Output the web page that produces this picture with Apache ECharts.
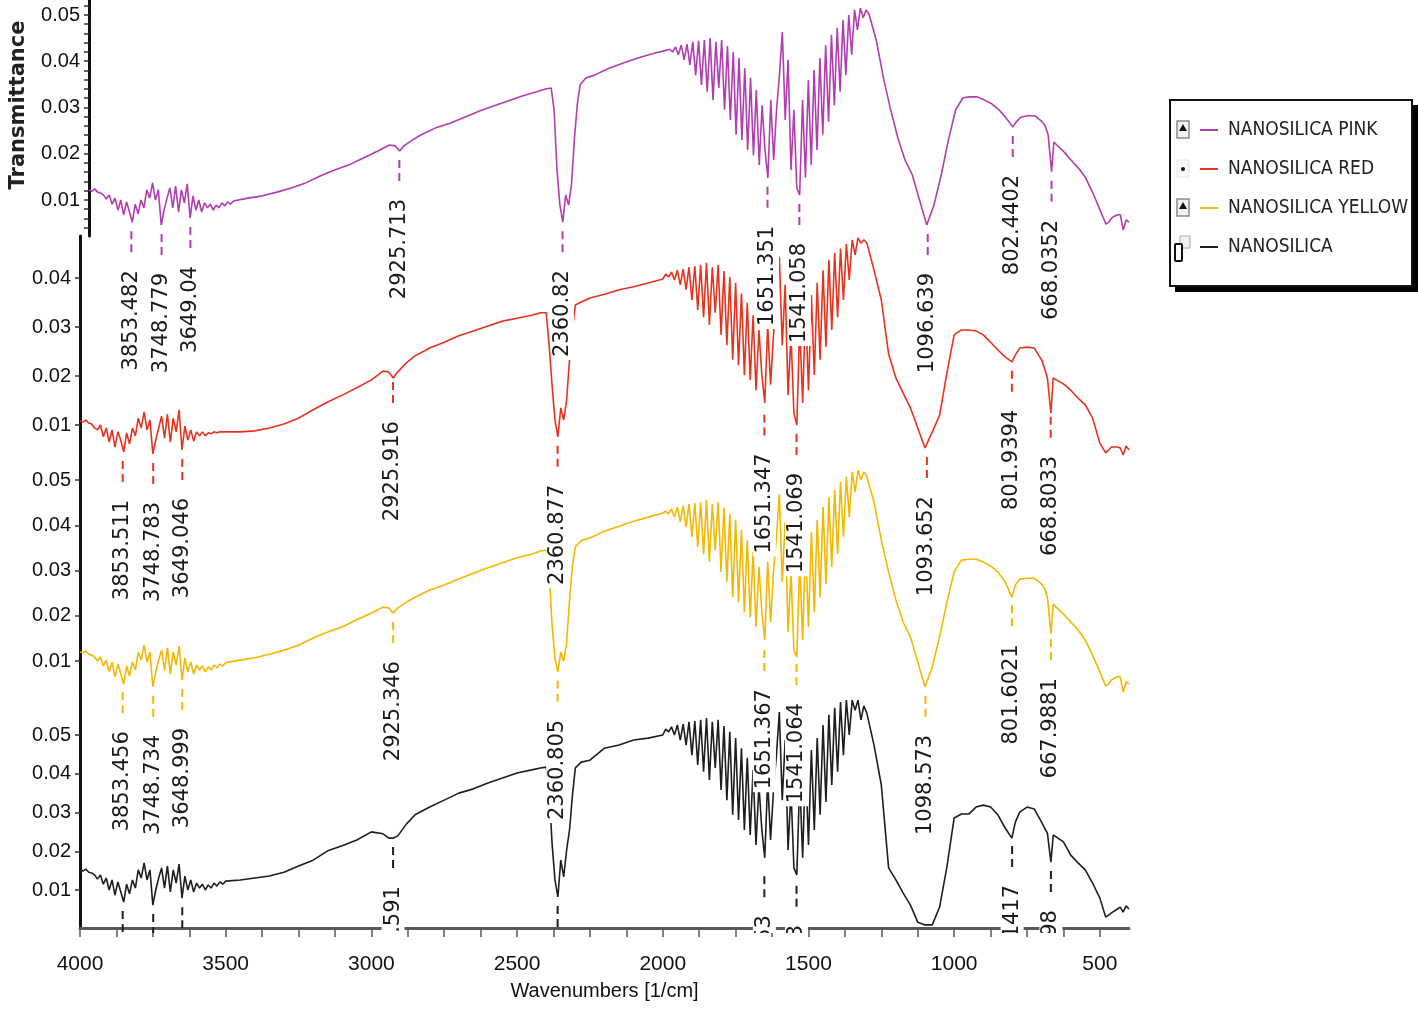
<!DOCTYPE html>
<html><head><meta charset="utf-8">
<script src="https://cdn.jsdelivr.net/npm/echarts@6/dist/echarts.min.js"></script>
<style>html,body{margin:0;padding:0;background:#fff}#c{width:1418px;height:1011px}</style>
</head><body><div id="c"></div>
<script>
// shared wavenumber sampling (1/cm)
const wn = [
4000,3990,3980,3970,3960,3950,3940,3930,3920,3910,3900,3890,3880,3870,3860,3850,3840,3830,3820,3810,3800,3790,3780,3770,3760,3750,3740,3730,3720,3710,3700,3690,3680,3670,3660,3650,3640,3630,3620,3610,3600,3590,3580,3570,3560,3550,3540,3530,3520,3510,3500,
3450,3400,3350,3300,3250,3200,3150,3100,3050,3000,2960,2940,2925,2910,2880,2850,2800,2750,2700,2650,2600,2550,2500,2450,2420,
2400,2390,2380,2370,2360,2350,2340,2330,2320,2310,2300,2280,2250,2200,2150,2100,2050,2000,
1990,1980,1970,1960,1950,1940,1930,1920,1910,1900,1890,1880,1870,1860,1850,1840,1830,1820,1810,1800,1790,1780,1770,1760,1750,1740,1730,1720,1710,1700,1690,1680,1670,1660,1650,1640,1630,1620,1610,1600,1590,1580,1570,1560,1550,1540,1530,1520,1510,1500,1490,1480,1470,1460,1450,1440,1430,1420,1410,1400,1390,1380,1370,1360,1350,1340,1330,1320,1310,1300,
1275,1250,1225,1200,1175,1150,1125,1100,1075,1050,1025,1000,975,950,925,900,875,850,825,802,790,775,750,725,700,690,680,668,660,650,625,600,575,550,525,500,480,470,460,450,440,430,420,410,400];

// transmittance values
const pink = [
.0122,.0119,.0124,.0117,.0115,.0111,.0102,.0111,.0091,.0104,.0078,.0100,.0068,.0096,.0074,.0052,.0091,.0070,.0100,.0083,.0122,.0104,.0137,.0100,.0122,.0046,.0078,.0104,.0126,.0083,.0130,.0074,.0122,.0094,.0135,.0061,.0109,.0078,.0100,.0074,.0094,.0083,.0091,.0078,.0089,.0083,.0094,.0087,.0096,.0091,.0098,
.0104,.0109,.0117,.0126,.0137,.0152,.0165,.0176,.0191,.0206,.0219,.0217,.0206,.0217,.0230,.0241,.0256,.0266,.0279,.0292,.0303,.0314,.0325,.0334,.0340,
.0342,.0295,.0165,.0089,.0052,.0111,.0089,.0132,.0230,.0305,.0349,.0364,.0370,.0385,.0396,.0407,.0416,.0424,
.0426,.0420,.0431,.0414,.0435,.0403,.0437,.0392,.0442,.0370,.0444,.0349,.0446,.0334,.0450,.0316,.0442,.0342,.0446,.0295,.0433,.0273,.0420,.0241,.0407,.0230,.0385,.0208,.0364,.0197,.0338,.0176,.0305,.0208,.0148,.0316,.0186,.0295,.0370,.0463,.0273,.0403,.0165,.0295,.0126,.0111,.0316,.0148,.0359,.0176,.0381,.0208,.0407,.0241,.0435,.0269,.0457,.0305,.0472,.0334,.0489,.0370,.0500,.0414,.0511,.0468,.0515,.0494,.0511,.0502,
.0446,.0364,.0295,.0234,.0186,.0154,.0100,.0046,.0089,.0154,.0230,.0295,.0321,.0323,.0323,.0316,.0308,.0295,.0277,.0258,.0269,.0279,.0282,.0282,.0269,.0260,.0241,.0161,.0225,.0219,.0204,.0186,.0169,.0148,.0115,.0078,.0048,.0052,.0061,.0065,.0068,.0068,.0035,.0057,.0052];

const red = [
.0108,.0106,.0110,.0104,.0102,.0094,.0090,.0100,.0076,.0094,.0065,.0090,.0055,.0086,.0069,.0045,.0084,.0061,.0094,.0078,.0114,.0094,.0127,.0090,.0110,.0041,.0069,.0094,.0118,.0073,.0122,.0065,.0114,.0086,.0131,.0049,.0098,.0069,.0090,.0067,.0086,.0078,.0086,.0078,.0084,.0082,.0086,.0084,.0086,.0086,.0086,
.0086,.0088,.0094,.0102,.0114,.0131,.0147,.0161,.0176,.0192,.0210,.0208,.0196,.0208,.0227,.0241,.0257,.0269,.0282,.0292,.0302,.0312,.0318,.0324,.0329,
.0329,.0263,.0182,.0110,.0076,.0135,.0110,.0151,.0233,.0294,.0345,.0351,.0359,.0367,.0376,.0382,.0390,.0398,
.0408,.0402,.0412,.0396,.0416,.0386,.0418,.0376,.0422,.0355,.0424,.0335,.0427,.0320,.0431,.0304,.0422,.0329,.0427,.0284,.0414,.0263,.0402,.0233,.0390,.0222,.0369,.0202,.0349,.0192,.0324,.0171,.0294,.0202,.0145,.0304,.0182,.0284,.0355,.0443,.0263,.0386,.0161,.0284,.0124,.0100,.0304,.0145,.0345,.0171,.0365,.0202,.0390,.0233,.0416,.0259,.0437,.0294,.0451,.0320,.0460,.0355,.0470,.0396,.0478,.0447,.0482,.0471,.0478,.0472,
.0416,.0355,.0245,.0196,.0165,.0135,.0094,.0053,.0086,.0120,.0206,.0284,.0294,.0294,.0292,.0284,.0269,.0253,.0239,.0229,.0243,.0257,.0259,.0257,.0233,.0216,.0196,.0124,.0196,.0192,.0184,.0171,.0155,.0141,.0114,.0063,.0043,.0049,.0055,.0055,.0055,.0053,.0039,.0057,.0049];

const yellow = [
.0120,.0118,.0122,.0115,.0113,.0109,.0100,.0109,.0089,.0102,.0076,.0098,.0065,.0093,.0071,.0049,.0089,.0067,.0098,.0080,.0120,.0102,.0135,.0098,.0120,.0043,.0076,.0102,.0124,.0080,.0129,.0071,.0120,.0091,.0133,.0058,.0107,.0076,.0098,.0071,.0091,.0080,.0089,.0076,.0087,.0080,.0091,.0085,.0093,.0089,.0096,
.0102,.0107,.0115,.0124,.0135,.0151,.0164,.0175,.0191,.0206,.0219,.0217,.0206,.0217,.0230,.0241,.0257,.0268,.0281,.0294,.0306,.0317,.0328,.0336,.0343,
.0345,.0300,.0180,.0105,.0076,.0120,.0100,.0140,.0235,.0310,.0352,.0366,.0372,.0387,.0398,.0409,.0418,.0427,
.0431,.0425,.0436,.0418,.0440,.0407,.0443,.0396,.0447,.0374,.0449,.0352,.0451,.0336,.0456,.0319,.0447,.0345,.0451,.0297,.0438,.0275,.0425,.0241,.0412,.0230,.0390,.0208,.0367,.0197,.0341,.0175,.0308,.0208,.0146,.0319,.0186,.0297,.0374,.0469,.0275,.0407,.0164,.0297,.0124,.0109,.0319,.0146,.0363,.0175,.0385,.0208,.0412,.0241,.0440,.0270,.0462,.0308,.0478,.0336,.0496,.0374,.0507,.0418,.0518,.0473,.0522,.0500,.0518,.0509,
.0451,.0367,.0297,.0235,.0186,.0153,.0098,.0043,.0087,.0153,.0230,.0297,.0323,.0325,.0325,.0319,.0310,.0297,.0275,.0241,.0268,.0281,.0283,.0283,.0270,.0261,.0241,.0160,.0226,.0219,.0204,.0186,.0169,.0146,.0113,.0076,.0045,.0049,.0058,.0062,.0065,.0065,.0031,.0054,.0049];

const black = [
.0152,.0149,.0154,.0146,.0144,.0139,.0128,.0139,.0115,.0131,.0100,.0126,.0087,.0121,.0095,.0069,.0115,.0090,.0126,.0105,.0152,.0131,.0170,.0126,.0152,.0061,.0100,.0131,.0157,.0105,.0162,.0095,.0152,.0118,.0167,.0079,.0136,.0100,.0126,.0095,.0118,.0105,.0115,.0100,.0113,.0105,.0118,.0110,.0121,.0115,.0123,
.0126,.0131,.0136,.0146,.0162,.0177,.0201,.0214,.0229,.0250,.0245,.0234,.0234,.0239,.0270,.0294,.0314,.0332,.0350,.0361,.0376,.0389,.0402,.0410,.0415,
.0417,.0358,.0221,.0126,.0082,.0177,.0134,.0203,.0255,.0345,.0415,.0430,.0435,.0466,.0474,.0487,.0492,.0500,
.0515,.0508,.0521,.0500,.0526,.0487,.0528,.0474,.0534,.0448,.0536,.0423,.0539,.0405,.0544,.0384,.0534,.0415,.0539,.0358,.0523,.0332,.0508,.0294,.0492,.0281,.0466,.0255,.0441,.0242,.0410,.0216,.0371,.0255,.0183,.0384,.0229,.0358,.0448,.0559,.0332,.0487,.0203,.0358,.0157,.0139,.0384,.0183,.0435,.0216,.0461,.0255,.0492,.0294,.0526,.0327,.0552,.0371,.0570,.0405,.0585,.0448,.0590,.0500,.0590,.0564,.0590,.0539,.0575,.0557,
.0474,.0371,.0157,.0126,.0092,.0061,.0017,.0010,.0010,.0056,.0159,.0286,.0296,.0296,.0314,.0319,.0314,.0294,.0260,.0234,.0275,.0301,.0314,.0309,.0275,.0260,.0247,.0172,.0242,.0237,.0224,.0190,.0170,.0152,.0118,.0079,.0030,.0035,.0041,.0046,.0051,.0056,.0043,.0059,.0051];

// peak annotations: [label (wavenumber), transmittance at the band]
const pinkPeaks = [['3853.482',.0052],['3748.779',.0046],['3649.04',.0061],['2925.713',.0206],['2360.82',.0052],['1651.351',.0148],['1541.058',.0111],['1096.639',.0046],['802.4402',.0258],['668.0352',.0161]];
const redPeaks = [['3853.511',.0045],['3748.783',.0041],['3649.046',.0049],['2925.916',.0206],['2360.877',.0076],['1651.347',.0140],['1541.069',.0100],['1093.652',.0053],['801.9394',.0229],['668.8033',.0135]];
const yellowPeaks = [['3853.456',.0051],['3748.734',.0043],['3648.999',.0058],['2925.346',.0206],['2360.805',.0076],['1651.367',.0144],['1541.064',.0113],['1098.573',.0043],['801.6021',.0243],['667.9881',.0168]];
const blackPeaks = [['3853.468',.0069],['3748.748',.0061],['3649.013',.0079],['2925.591',.0234],['2360.846',.0082],['1651.353',.0159],['1541.063',.0134],['1096.612',.0010],['801.1417',.0237],['667.9898',.0172]];

const seriesNames = ['NANOSILICA PINK','NANOSILICA RED','NANOSILICA YELLOW','NANOSILICA'];
const xTickLabels = [4000,3500,3000,2500,2000,1500,1000,500];
const xTicks = [4000,3875,3750,3625,3500,3375,3250,3125,3000,2875,2750,2625,2500,2375,2250,2125,2000,1875,1750,1625,1500,1375,1250,1125,1000,875,750,625,500];
const yTickLabels = [[0.01,0.02,0.03,0.04,0.05],[0.01,0.02,0.03,0.04],[0.01,0.02,0.03,0.04,0.05],[0.01,0.02,0.03,0.04,0.05]];
const yTicksTop = [0.004,0.006,0.008,0.01,0.012,0.014,0.016,0.018,0.02,0.022,0.024,0.026,0.028,0.03,0.032,0.034,0.036,0.038,0.04,0.042,0.044,0.046,0.048,0.05,0.052];

// layout
const colors = ['#B23DB0','#E8321E','#F4B800','#1E1E1E'];
const AXISFONT = "'Liberation Sans',Arial,sans-serif";
const COND = "'DejaVu Sans Condensed','DejaVu Sans',sans-serif";
const panels = [
  {top:0,   height:236, min:0.002216,  max:0.053243},
  {top:236, height:226, min:0.002449,  max:0.048571},
  {top:462, height:233, min:0.002486,  max:0.053978},
  {top:695, height:233, min:0.000194,  max:0.060323},
  {top:695, height:238, min:-0.001097, max:0.060323}  // annotation layer for bottom panel (clipped)
];
const PLOT_LEFT = 80, PLOT_W = 1049;

const chart = echarts.init(document.getElementById('c'), null, {renderer:'canvas'});

const grid = panels.map(p => ({left:PLOT_LEFT, width:PLOT_W, top:p.top, height:p.height}));
const xAxis = panels.map((p,i) => {
  const base = {gridIndex:i, type:'value', min:400, max:4000, inverse:true, splitLine:{show:false}};
  if (i !== 3) return Object.assign(base, {show:false});
  return Object.assign(base, {
    axisLine:{show:true, onZero:false, lineStyle:{color:'#5a5a5a', width:3}},
    axisTick:{show:true, length:9, customValues:xTicks, lineStyle:{color:'#5a5a5a', width:1.5}},
    axisLabel:{show:true, customValues:xTickLabels, formatter:v=>String(v), margin:26, fontFamily:AXISFONT, fontSize:21, color:'#111'},
    name:'Wavenumbers [1/cm]', nameLocation:'middle', nameGap:53,
    nameTextStyle:{fontFamily:AXISFONT, fontSize:20, color:'#111'}
  });
});
const yAxis = panels.map((p,i) => {
  const base = {gridIndex:i, type:'value', min:p.min, max:p.max, splitLine:{show:false}};
  if (i === 4) return Object.assign(base, {show:false});
  const ax = Object.assign(base, {
    axisLine:{show:true, onZero:false, lineStyle:{color:'#111', width:3}},
    axisTick:{show:true, length:5, customValues: i===0 ? yTicksTop : yTickLabels[i], lineStyle:{color:'#333', width:1.5}},
    axisLabel:{show:true, margin:9, customValues:yTickLabels[i], formatter:v=>v.toFixed(2), fontFamily:AXISFONT, fontSize:20, color:'#111'}
  });
  if (i === 0) Object.assign(ax, {name:'Transmittance', nameLocation:'middle', nameGap:60, nameRotate:90,
    nameTextStyle:{fontFamily:'DejaVu Sans', fontSize:21, fontWeight:'bold', color:'#222', padding:[0,0,0,26]}});
  return ax;
});

const curves = [pink, red, yellow, black];
const series = curves.map((arr,i) => ({
  type:'line', name:seriesNames[i], xAxisIndex:i, yAxisIndex:i,
  data: arr.map((v,k)=>[wn[k], v]),
  showSymbol:false, symbol:'none', animation:false, z:2,
  lineStyle:{color:colors[i], width:1.6}, itemStyle:{color:colors[i]}
}));

function annotations(peaks, color, axisIdx, clip) {
  return {
    type:'custom', xAxisIndex:axisIdx, yAxisIndex:axisIdx, clip:clip, z:10, silent:true, animation:false,
    data: peaks.map(p => [parseFloat(p[0]), p[1]]),
    renderItem(params, api) {
      const pt = api.coord([api.value(0), api.value(1)]);
      const label = peaks[params.dataIndex][0];
      return {type:'group', children:[
        {type:'line', shape:{x1:pt[0], y1:pt[1]+9, x2:pt[0], y2:pt[1]+31},
         style:{stroke:color, lineWidth:2, lineDash:[8,5]}},
        {type:'text', x:pt[0], y:pt[1]+45, rotation:Math.PI/2,
         style:{text:label, align:'right', verticalAlign:'middle', fontSize:21, fontFamily:'DejaVu Sans',
                fill:'#1a1a1a', backgroundColor:'#fff', padding:[1,3,1,3]}}
      ]};
    }
  };
}
series.push(annotations(pinkPeaks, colors[0], 0, false));
series.push(annotations(redPeaks, colors[1], 1, false));
series.push(annotations(yellowPeaks, colors[2], 2, false));
series.push(annotations(blackPeaks, colors[3], 4, true));

const iconBox = (y, kind) => {
  const els = [];
  if (kind === 'box') {
    els.push({type:'rect', shape:{x:1177, y:y-9, width:12, height:17}, style:{fill:'#f2f2f2', stroke:'#8a8a8a', lineWidth:1.5}});
    els.push({type:'polygon', shape:{points:[[1183,y-6],[1179,y+1],[1187,y+1]]}, style:{fill:'#111'}});
  } else if (kind === 'dot') {
    els.push({type:'rect', shape:{x:1177, y:y-9, width:12, height:17}, style:{fill:'#fafafa', stroke:'#e4e4e4', lineWidth:1}});
    els.push({type:'circle', shape:{cx:1183, cy:y, r:2}, style:{fill:'#111'}});
  } else {
    els.push({type:'rect', shape:{x:1180, y:y-12, width:10, height:12}, style:{fill:'#f2f2f2', stroke:'#aaa', lineWidth:1}});
    els.push({type:'rect', shape:{x:1175, y:y-4, width:7, height:17, r:1}, style:{fill:'#fff', stroke:'#111', lineWidth:2}});
  }
  return els;
};

const graphic = [
  {type:'rect', z:0, shape:{x:1175, y:105, width:243, height:187}, style:{fill:'#000'}},
  {type:'rect', z:1, shape:{x:1170, y:100, width:242, height:186}, style:{fill:'#fff', stroke:'#111', lineWidth:2}},
  ...iconBox(130,'box').map(e=>Object.assign(e,{z:2})),
  ...iconBox(169,'dot').map(e=>Object.assign(e,{z:2})),
  ...iconBox(208,'box').map(e=>Object.assign(e,{z:2})),
  ...iconBox(248,'black').map(e=>Object.assign(e,{z:2}))
];

chart.setOption({
  animation:false,
  backgroundColor:'#fff',
  grid, xAxis, yAxis, series, graphic,
  legend:{
    orient:'vertical', left:1200, top:118, padding:0, itemGap:15, itemWidth:18, itemHeight:2, icon:'rect',
    selectedMode:false, z:5,
    textStyle:{fontFamily:COND, fontSize:19, color:'#222', lineHeight:24, padding:[0,0,0,5]},
    data:seriesNames
  }
});
</script>
</body></html>
